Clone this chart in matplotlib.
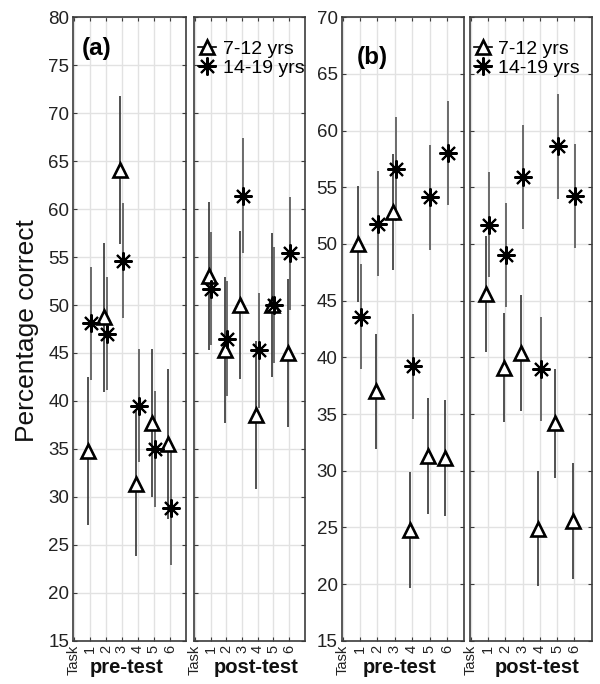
import matplotlib
matplotlib.use('Agg')
import matplotlib.pyplot as plt
from matplotlib.lines import Line2D

plt.rcParams['font.family'] = ['Liberation Sans', 'DejaVu Sans']

tasks = [1, 2, 3, 4, 5, 6]
tick_labels = ['Task', '1', '2', '3', '4', '5', '6']
group_labels = ['7-12 yrs', '14-19 yrs']

# panel (a)
a_pre_young = [34.8, 48.7, 64.1, 31.4, 37.7, 35.5]
a_pre_young_err = [7.7, 7.8, 7.7, 7.6, 7.7, 7.8]
a_pre_old = [48.1, 47.0, 54.6, 39.5, 35.0, 28.8]
a_pre_old_err = [5.9, 5.9, 6.0, 5.9, 6.0, 5.9]
a_post_young = [53.0, 45.3, 50.0, 38.5, 50.0, 45.0]
a_post_young_err = [7.7, 7.6, 7.7, 7.7, 7.5, 7.7]
a_post_old = [51.7, 46.5, 61.4, 45.3, 50.0, 55.4]
a_post_old_err = [5.9, 6.0, 6.0, 6.0, 6.0, 5.9]

# panel (b)
b_pre_young = [50.0, 37.0, 52.8, 24.8, 31.3, 31.1]
b_pre_young_err = [5.1, 5.1, 5.1, 5.1, 5.1, 5.1]
b_pre_old = [43.6, 51.8, 56.6, 39.2, 54.1, 58.0]
b_pre_old_err = [4.6, 4.6, 4.6, 4.6, 4.6, 4.6]
b_post_young = [45.6, 39.1, 40.4, 24.9, 34.2, 25.6]
b_post_young_err = [5.1, 4.8, 5.1, 5.1, 4.8, 5.1]
b_post_old = [51.7, 49.0, 55.9, 39.0, 58.6, 54.2]
b_post_old_err = [4.6, 4.6, 4.6, 4.6, 4.6, 4.6]

STAR = (8, 2, 0)
FRAME = '#3c3c3c'


def draw_panel(ax, young, young_err, old, old_err, ylim, xlabel, show_y, label_x):
    xs_y = [t - 0.1 for t in tasks]
    xs_o = [t + 0.05 for t in tasks]
    ax.errorbar(xs_y, young, yerr=young_err, fmt='none', ecolor='#333333', elinewidth=1.2, capsize=0, zorder=3)
    ax.errorbar(xs_o, old, yerr=old_err, fmt='none', ecolor='#555555', elinewidth=1.2, capsize=0, zorder=3)
    ax.plot(xs_y, young, linestyle='none', marker='^', ms=10, mfc='white', mec='black', mew=1.9, zorder=5)
    ax.plot(xs_o, old, linestyle='none', marker=STAR, ms=13, mec='black', mew=1.5, zorder=6)

    ax.set_xlim(-0.05, 7.0)
    ax.set_ylim(*ylim)
    ax.set_xticks(range(7))
    ax.set_xticklabels(tick_labels, rotation=90, fontsize=10.5, color='#222222')
    ax.set_yticks(range(ylim[0], ylim[1] + 1, 5))
    if show_y:
        ax.tick_params(axis='y', labelsize=13.5, labelcolor='#222222')
    else:
        ax.set_yticklabels([])
    ax.tick_params(direction='in', length=3, width=0.8, color=FRAME, top=True, right=True, pad=3)
    ax.grid(True, color='#e2e2e2', linewidth=1.0)
    ax.set_axisbelow(True)
    for s in ax.spines.values():
        s.set_color(FRAME)
        s.set_linewidth(1.2)
    ax.set_xlabel(xlabel, fontsize=14.5, fontweight='bold', color='#111111')
    ax.xaxis.set_label_coords(label_x, -0.028)


def add_legend(ax):
    handles = [
        Line2D([], [], color='black', lw=1.2, marker='^', ms=10, mfc='white', mec='black', mew=1.9),
        Line2D([], [], color='black', lw=1.2, marker=STAR, ms=13, mec='black', mew=1.5),
    ]
    ax.legend(handles, group_labels, loc='upper left', bbox_to_anchor=(-0.03, 0.975), frameon=False,
              fontsize=14, handlelength=0.9, handletextpad=0.35, labelspacing=0.05, borderaxespad=0)


fig = plt.figure(figsize=(6, 6.84), dpi=100)
bottom, height = 0.063, 0.912
ax1 = fig.add_axes([0.1222, bottom, 0.1873, height])
ax2 = fig.add_axes([0.3233, bottom, 0.1850, height])
ax3 = fig.add_axes([0.5695, bottom, 0.2043, height])
ax4 = fig.add_axes([0.7833, bottom, 0.2028, height])

draw_panel(ax1, a_pre_young, a_pre_young_err, a_pre_old, a_pre_old_err, (15, 80), 'pre-test', True, 0.47)
draw_panel(ax2, a_post_young, a_post_young_err, a_post_old, a_post_old_err, (15, 80), 'post-test', False, 0.56)
draw_panel(ax3, b_pre_young, b_pre_young_err, b_pre_old, b_pre_old_err, (15, 70), 'pre-test', True, 0.47)
draw_panel(ax4, b_post_young, b_post_young_err, b_post_old, b_post_old_err, (15, 70), 'post-test', False, 0.55)

add_legend(ax2)
add_legend(ax4)

ax1.text(0.075, 0.949, '(a)', transform=ax1.transAxes, fontsize=17.5, fontweight='bold', va='center')
ax3.text(0.12, 0.936, '(b)', transform=ax3.transAxes, fontsize=17.5, fontweight='bold', va='center')

fig.text(0.045, 0.517, 'Percentage correct', rotation=90, fontsize=19, va='center', ha='center', color='#111111')

fig.savefig('out.png', dpi=100)
